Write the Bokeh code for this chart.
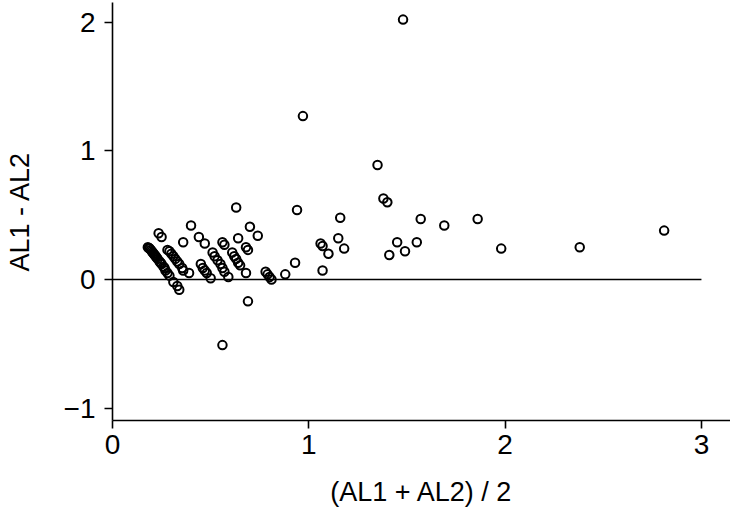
from bokeh.plotting import figure
from bokeh.models import Range1d, FixedTicker
from bokeh.embed import file_html
from bokeh.resources import INLINE

# Bland-Altman style data: mean (x) and difference (y)
mean_al = [
    0.18, 0.185, 0.19, 0.195, 0.20, 0.205, 0.21, 0.215, 0.22, 0.225, 0.23, 0.24, 0.245,
    0.25, 0.26, 0.265, 0.27, 0.28, 0.29,
    0.28, 0.29, 0.30, 0.31, 0.32, 0.33, 0.34, 0.355, 0.36,
    0.31, 0.33, 0.34,
    0.235, 0.25, 0.36, 0.40, 0.39, 0.44, 0.47,
    0.45, 0.46, 0.47, 0.48, 0.50,
    0.51, 0.52, 0.535, 0.55, 0.56, 0.57,
    0.56, 0.57, 0.59,
    0.61, 0.62, 0.63, 0.64, 0.65,
    0.64, 0.68, 0.69, 0.70, 0.74, 0.63, 0.68, 0.69, 0.56,
    0.78, 0.79, 0.80, 0.81,
    0.88, 0.93, 0.94, 0.97,
    1.06, 1.07, 1.07, 1.10, 1.15, 1.18, 1.16,
    1.35, 1.38, 1.40, 1.41, 1.45, 1.49, 1.55, 1.57, 1.69, 1.86, 1.98, 2.38, 2.81, 1.48,
]
diff_al = [
    0.25, 0.245, 0.24, 0.23, 0.22, 0.21, 0.20, 0.19, 0.18, 0.17, 0.16, 0.14, 0.13,
    0.12, 0.10, 0.09, 0.07, 0.05, 0.03,
    0.23, 0.22, 0.20, 0.18, 0.16, 0.14, 0.12, 0.09, 0.07,
    -0.02, -0.05, -0.08,
    0.36, 0.33, 0.29, 0.42, 0.05, 0.33, 0.28,
    0.12, 0.09, 0.07, 0.05, 0.01,
    0.21, 0.18, 0.15, 0.12, 0.09, 0.06,
    0.29, 0.27, 0.02,
    0.21, 0.18, 0.16, 0.13, 0.11,
    0.32, 0.25, 0.23, 0.41, 0.34, 0.56, 0.05, -0.17, -0.51,
    0.06, 0.04, 0.02, 0.00,
    0.04, 0.13, 0.54, 1.27,
    0.28, 0.26, 0.07, 0.20, 0.32, 0.24, 0.48,
    0.89, 0.63, 0.60, 0.19, 0.29, 0.22, 0.29, 0.47, 0.42, 0.47, 0.24, 0.25, 0.38, 2.02,
]

# zero reference line
ref_x = [0, 3]
ref_y = [0, 0]

x_ticks = [0, 1, 2, 3]
y_ticks = [-1, 0, 1, 2]
y_tick_labels = {-1: "\u22121", 0: "0", 1: "1", 2: "2"}

FONT = "Liberation Sans"

p = figure(
    width=730, height=517,
    output_backend="svg", toolbar_location=None,
    x_range=Range1d(0, 3.148), y_range=Range1d(-1.096, 2.153),
    min_border_left=112, min_border_bottom=97, min_border_top=2, min_border_right=0,
)
p.outline_line_color = None
p.xgrid.visible = False
p.ygrid.visible = False
p.background_fill_color = "white"
p.border_fill_color = "white"

p.line(ref_x, ref_y, line_color="black", line_width=1.6)
p.scatter(mean_al, diff_al, marker="circle", size=8.5, fill_color=None,
          line_color="black", line_width=2)

for ax in (p.xaxis[0], p.yaxis[0]):
    ax.axis_line_color = "black"
    ax.axis_line_width = 1.6
    ax.major_tick_line_color = "black"
    ax.major_tick_line_width = 1.6
    ax.major_tick_out = 8
    ax.major_tick_in = 0
    ax.minor_tick_line_color = None
    ax.major_label_text_font = FONT
    ax.major_label_text_font_size = "28px"
    ax.major_label_text_color = "black"
    ax.axis_label_text_font = FONT
    ax.axis_label_text_font_size = "27px"
    ax.axis_label_text_font_style = "normal"
    ax.axis_label_text_color = "black"

p.xaxis[0].ticker = FixedTicker(ticks=x_ticks)
p.yaxis[0].ticker = FixedTicker(ticks=y_ticks)
p.yaxis[0].major_label_overrides = y_tick_labels
p.xaxis[0].axis_label = "(AL1 + AL2) / 2"
p.yaxis[0].axis_label = "AL1 - AL2"
p.xaxis[0].major_label_standoff = 6
p.yaxis[0].major_label_standoff = 9
p.xaxis[0].axis_label_standoff = 20
p.yaxis[0].axis_label_standoff = 26

open("out.html", "w").write(file_html(p, INLINE))
